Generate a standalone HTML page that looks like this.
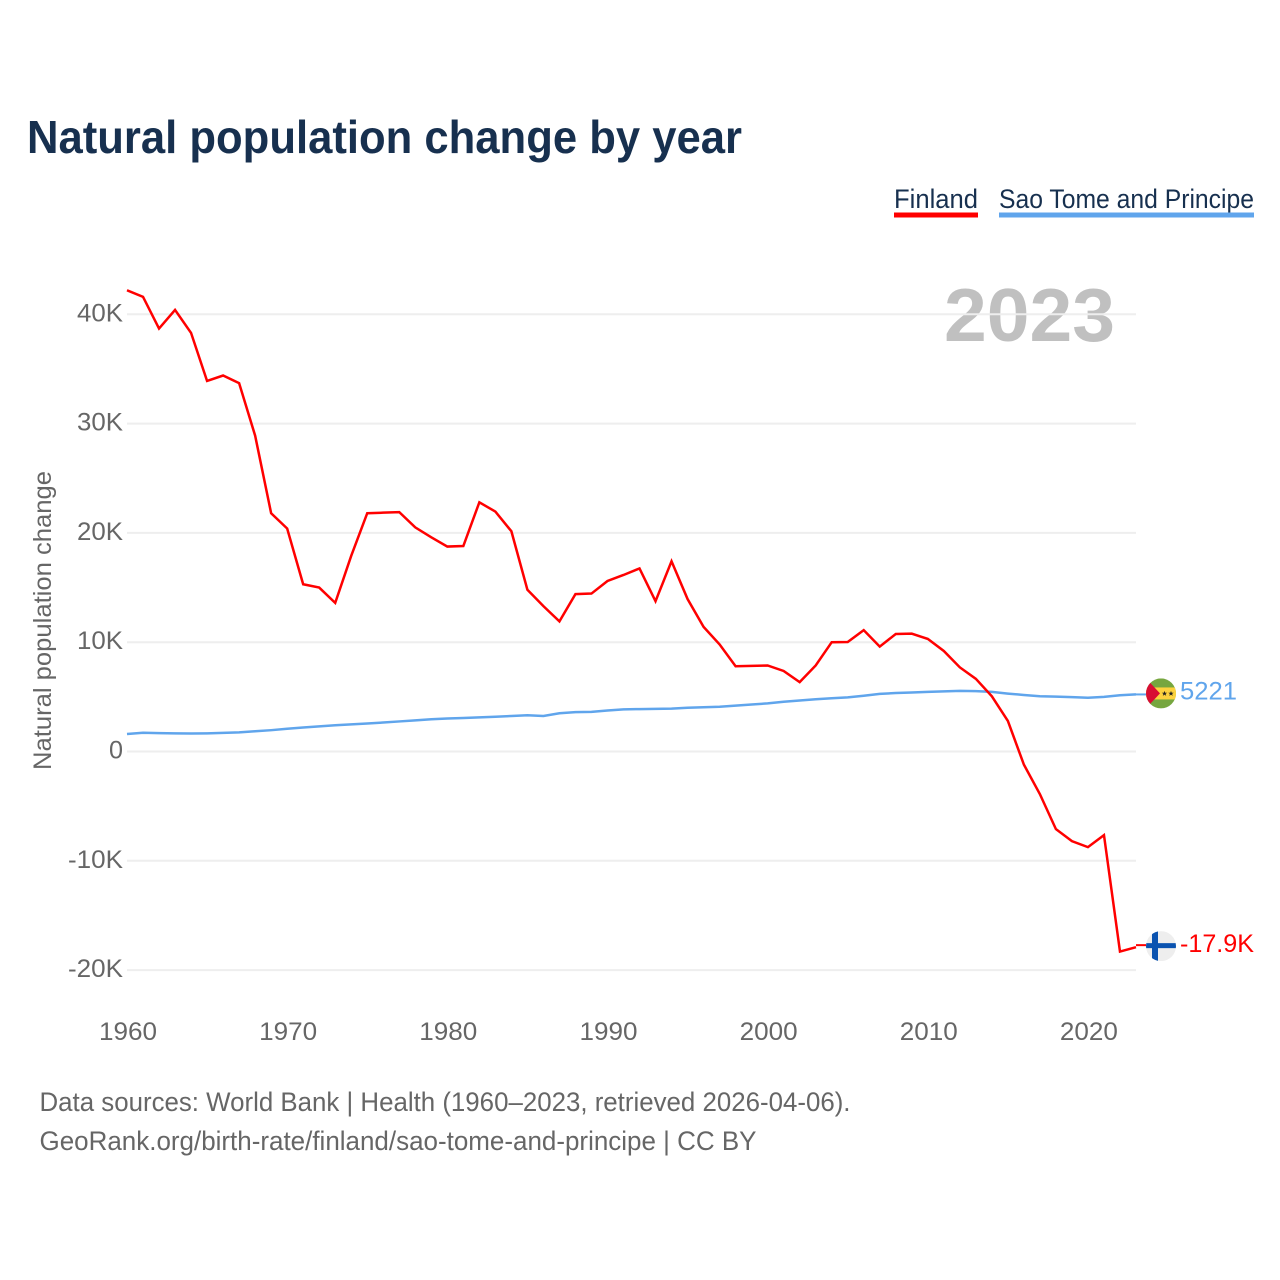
<!DOCTYPE html>
<html lang="en">
<head>
<meta charset="utf-8">
<title>Natural population change by year</title>
<style>
html,body{margin:0;padding:0;background:#fff}
svg{display:block}
text{font-family:"Liberation Sans",sans-serif}
</style>
</head>
<body>
<svg id="chart" xmlns="http://www.w3.org/2000/svg" width="1280" height="1280" viewBox="0 0 1280 1280">
  <defs>
    <clipPath id="clip-stp"><circle cx="0" cy="0" r="15"/></clipPath>
    <clipPath id="clip-fin"><circle cx="0" cy="0" r="15"/></clipPath>
  </defs>
  <rect width="1280" height="1280" fill="#fff"/>
  <text x="27" y="153" font-size="46" font-weight="700" fill="#17304f" textLength="715" lengthAdjust="spacingAndGlyphs">Natural population change by year</text>

  <g>
    <text x="894" y="208" font-size="27" fill="#17304f" textLength="84" lengthAdjust="spacingAndGlyphs">Finland</text>
    <rect x="894" y="212.5" width="84" height="5" fill="#ff0000"/>
  </g>
  <g>
    <text x="999" y="208" font-size="27" fill="#17304f" textLength="255" lengthAdjust="spacingAndGlyphs">Sao Tome and Principe</text>
    <rect x="999" y="212.5" width="255" height="5" fill="#60a5ec"/>
  </g>

  <text x="944" y="341" font-size="75" font-weight="700" fill="#c0c0c0" textLength="171" lengthAdjust="spacingAndGlyphs">2023</text>

  <text transform="translate(51 770) rotate(-90)" font-size="25" fill="#666" textLength="299" lengthAdjust="spacingAndGlyphs">Natural population change</text>

  <g id="grid"></g>
  <g id="yticks"></g>
  <g id="xticks"></g>
  <g id="series"></g>
  <g id="ends"></g>

  <text x="39.5" y="1111" font-size="27" fill="#666" textLength="811" lengthAdjust="spacingAndGlyphs">Data sources: World Bank | Health (1960–2023, retrieved 2026-04-06).</text>
  <text x="39.5" y="1150" font-size="27" fill="#666" textLength="717" lengthAdjust="spacingAndGlyphs">GeoRank.org/birth-rate/finland/sao-tome-and-principe | CC BY</text>
</svg>

<script>
// Chart data (thousands of people per year)
var startYear = 1960;
var endYear = 2023;
var xTickYears = [1960, 1970, 1980, 1990, 2000, 2010, 2020];
var yTickValues = [-20, -10, 0, 10, 20, 30, 40];
var yTickLabels = ['-20K', '-10K', '0', '10K', '20K', '30K', '40K'];
var finlandValues = [
  42.2, 41.6, 38.7, 40.4, 38.3, 33.9, 34.4, 33.7, 28.9, 21.8,
  20.4, 15.3, 15.0, 13.6, 17.9, 21.8, 21.85, 21.9, 20.5, 19.6,
  18.75, 18.8, 22.8, 21.95, 20.15, 14.8, 13.3, 11.9, 14.4, 14.45,
  15.6, 16.15, 16.75, 13.75, 17.4, 13.95, 11.4, 9.8, 7.8, 7.83,
  7.87, 7.37, 6.35, 7.87, 10.0, 10.02, 11.1, 9.6, 10.75, 10.78,
  10.3, 9.2, 7.7, 6.65, 5.05, 2.8, -1.2, -3.9, -7.1, -8.2,
  -8.75, -7.65, -18.3, -17.9
];
var saoTomeValues = [
  1.6, 1.72, 1.68, 1.66, 1.65, 1.66, 1.7, 1.75, 1.85, 1.95,
  2.08, 2.2, 2.3, 2.4, 2.48, 2.56, 2.65, 2.75, 2.85, 2.95,
  3.02, 3.06, 3.12, 3.18, 3.25, 3.32, 3.25, 3.5, 3.6, 3.62,
  3.75, 3.85, 3.88, 3.9, 3.92, 4.0, 4.05, 4.1, 4.2, 4.3,
  4.4, 4.55, 4.67, 4.78, 4.87, 4.95, 5.1, 5.27, 5.35, 5.4,
  5.45, 5.5, 5.55, 5.52, 5.45, 5.3, 5.17, 5.05, 5.02, 4.98,
  4.92, 5.0, 5.15, 5.221
];

var NS = 'http://www.w3.org/2000/svg';
var plotLeft = 127, plotRight = 1136;
var yZero = 751.5, pxPerUnit = 10.93;

function xScale(year) {
  return plotLeft + (year - startYear) * (plotRight - plotLeft) / (endYear - startYear);
}
function yScale(v) {
  return yZero - v * pxPerUnit;
}
function make(tag, parent, attrs) {
  var el = document.createElementNS(NS, tag);
  for (var k in attrs) el.setAttribute(k, attrs[k]);
  parent.appendChild(el);
  return el;
}
function formatValue(v) {
  return Math.abs(v) < 10 ? String(Math.round(v * 1000)) : v.toFixed(1) + 'K';
}
function linePoints(values) {
  return values.map(function (v, i) {
    return xScale(startYear + i).toFixed(2) + ',' + yScale(v).toFixed(2);
  }).join(' ');
}
function tickLabelWidth(label) {
  return label.length === 1 ? 14 : (label.length === 3 ? 46 : 55);
}

var gridG = document.getElementById('grid');
var yG = document.getElementById('yticks');
var xG = document.getElementById('xticks');
var seriesG = document.getElementById('series');
var endsG = document.getElementById('ends');

yTickValues.forEach(function (v, i) {
  var gl = make('line', gridG, {x1: plotLeft, x2: plotRight, y1: yScale(v), y2: yScale(v), stroke: '#eeeeee', 'stroke-width': 2});
  
  
  var label = yTickLabels[i];
  var t = make('text', yG, {x: 123, y: yScale(v) + 7, 'text-anchor': 'end', 'font-size': 25, fill: '#666', textLength: tickLabelWidth(label), lengthAdjust: 'spacingAndGlyphs'});
  t.textContent = label;
  
  
});

xTickYears.forEach(function (yr) {
  var t = make('text', xG, {x: xScale(yr) + 1, y: 1040, 'text-anchor': 'middle', 'font-size': 25, fill: '#666', textLength: 58, lengthAdjust: 'spacingAndGlyphs'});
  t.textContent = String(yr);
  
  
});

var saoLine = make('polyline', seriesG, {points: linePoints(saoTomeValues), fill: 'none', stroke: '#60a5ec', 'stroke-width': 2.5, 'stroke-linejoin': 'miter'});



var finLine = make('polyline', seriesG, {points: linePoints(finlandValues), fill: 'none', stroke: '#ff0000', 'stroke-width': 2.5, 'stroke-linejoin': 'miter'});



// Sao Tome end marker
var saoLast = saoTomeValues[saoTomeValues.length - 1];
var saoY = yScale(saoLast);
var saoStub = make('line', endsG, {x1: plotRight, x2: 1146, y1: saoY, y2: saoY, stroke: '#60a5ec', 'stroke-width': 2});



var saoFlag = make('g', endsG, {transform: 'translate(1161 ' + (saoY - 1) + ')'});


var saoClip = make('g', saoFlag, {'clip-path': 'url(#clip-stp)'});
make('rect', saoClip, {x: -15, y: -15, width: 30, height: 30, fill: '#76a63f'});
make('rect', saoClip, {x: -15, y: -6, width: 30, height: 12, fill: '#fdd23e'});
make('polygon', saoClip, {points: '-15,-15 -1,0 -15,15', fill: '#d80d33'});
make('polygon', saoClip, {points: '3.5,-2.6 4.2,-0.7 6.2,-0.7 4.6,0.5 5.2,2.4 3.5,1.2 1.8,2.4 2.4,0.5 0.8,-0.7 2.8,-0.7', fill: '#222'});
make('polygon', saoClip, {points: '10,-2.6 10.7,-0.7 12.7,-0.7 11.1,0.5 11.7,2.4 10,1.2 8.3,2.4 8.9,0.5 7.3,-0.7 9.3,-0.7', fill: '#222'});

var saoLabel = make('text', endsG, {x: 1180, y: saoY + 5, 'font-size': 25, fill: '#60a5ec', textLength: 57, lengthAdjust: 'spacingAndGlyphs'});
saoLabel.textContent = formatValue(saoLast);



// Finland end marker
var finLast = finlandValues[finlandValues.length - 1];
var finY = yScale(finLast);
var finStub = make('line', endsG, {x1: plotRight, x2: 1146, y1: finY - 2, y2: finY - 2, stroke: '#ff0000', 'stroke-width': 2});



var finFlag = make('g', endsG, {transform: 'translate(1161 ' + (finY - 1) + ')'});


var finClip = make('g', finFlag, {'clip-path': 'url(#clip-fin)'});
make('rect', finClip, {x: -15, y: -15, width: 30, height: 30, fill: '#eeeeee'});
make('rect', finClip, {x: -15, y: -3, width: 30, height: 5, fill: '#0b53b0'});
make('rect', finClip, {x: -9, y: -15, width: 6, height: 30, fill: '#0b53b0'});

var finLabel = make('text', endsG, {x: 1180, y: finY + 5, 'font-size': 25, fill: '#ff0000', textLength: 74, lengthAdjust: 'spacingAndGlyphs'});
finLabel.textContent = formatValue(finLast);


</script>
</body>
</html>
